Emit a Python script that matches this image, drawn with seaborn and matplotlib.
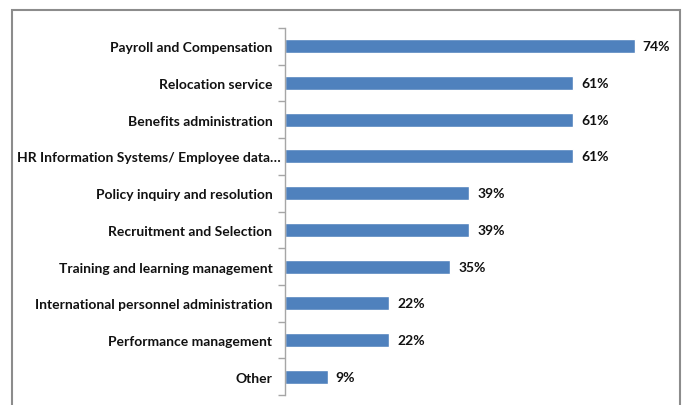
import matplotlib
matplotlib.use("Agg")
import matplotlib.pyplot as plt
import matplotlib.transforms as mtransforms
from matplotlib.patches import Rectangle
import seaborn as sns
import pandas as pd

categories = [
    "Payroll and Compensation",
    "Relocation service",
    "Benefits administration",
    "HR Information Systems/ Employee data\u2026",
    "Policy inquiry and resolution",
    "Recruitment and Selection",
    "Training and learning management",
    "International personnel administration",
    "Performance management",
    "Other",
]
values = [74, 61, 61, 61, 39, 39, 35, 22, 22, 9]

df = pd.DataFrame({"category": categories, "value": values})

sns.set_theme(style="white")
plt.rcParams["font.family"] = ["Lato", "DejaVu Sans"]

W, H = 689, 406
fig = plt.figure(figsize=(W / 100, H / 100), dpi=100)

# axes placed in pixel terms: left at 285, top at 29, bottom at 396
left, right, top, bottom = 285, 663, 29, 396
ax = fig.add_axes([left / W, 1 - bottom / H, (right - left) / W, (bottom - top) / H])

sns.barplot(data=df, x="value", y="category", orient="h", color="#4F81BD",
            saturation=1, width=0.38, ax=ax)

ax.set_xlim(0, 80)
ax.set_ylim(len(categories) - 0.5, -0.5)
ax.set_xlabel("")
ax.set_ylabel("")
ax.set_xticks([])

for s in ["top", "right", "bottom"]:
    ax.spines[s].set_visible(False)
ax.spines["left"].set_color("#A6A6A6")
ax.spines["left"].set_linewidth(1)

# category tick marks sit between bars
ax.set_yticks([i - 0.5 for i in range(len(categories) + 1)], minor=True)
ax.tick_params(axis="y", which="minor", length=5, width=1, color="#A6A6A6", left=True)
ax.tick_params(axis="y", which="major", length=0, pad=9)
ax.set_yticklabels(categories, fontsize=10, fontweight="bold", color="#111111")

# the truncated long label runs closer to the axis
long_label = ax.get_yticklabels()[3]
long_label.set_transform(long_label.get_transform()
                         + mtransforms.ScaledTranslation(8 / 100, 0, fig.dpi_scale_trans))

for i, v in enumerate(values):
    ax.text(v + 1.7, i, f"{v}%", va="center", ha="left", fontsize=10,
            fontweight="bold", color="#111111")

# outer chart frame
frame = Rectangle((12 / W, -0.05), (680 - 12) / W, 1 - 11 / H + 0.05,
                  transform=fig.transFigure, fill=False, edgecolor="#8C8C8C",
                  linewidth=1.5, clip_on=False)
fig.patches.append(frame)

fig.savefig("out.png", dpi=100)
